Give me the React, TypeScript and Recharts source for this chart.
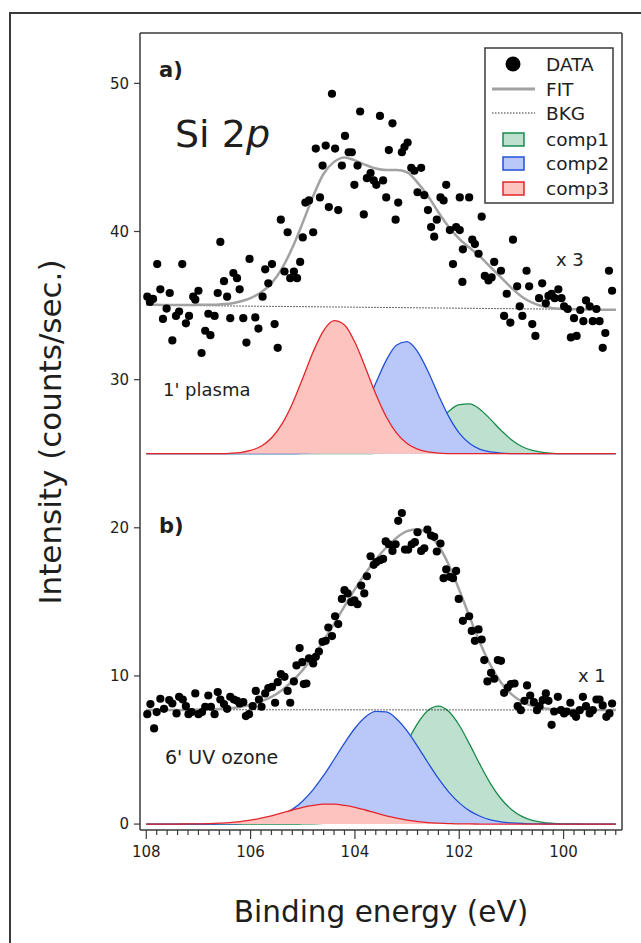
import React from 'react'
import { ComposedChart, Area, Line, Scatter, XAxis, YAxis, ReferenceLine } from 'recharts'

// energy grid (eV) the fitted curves are read on
const curveE = [
  108.0, 107.8, 107.6, 107.4, 107.2, 107.0, 106.8, 106.6, 106.4, 106.2,
  106.0, 105.8, 105.6, 105.4, 105.2, 105.0, 104.8, 104.6, 104.4, 104.2,
  104.0, 103.8, 103.6, 103.4, 103.2, 103.0, 102.8, 102.6, 102.4, 102.2,
  102.0, 101.8, 101.6, 101.4, 101.2, 101.0, 100.8, 100.6, 100.4, 100.2,
  100.0, 99.8, 99.6, 99.4, 99.2, 99.0,
]

// panel a) 1' plasma (offset, x 3)
const comp1A = [
  25, 25, 25, 25, 25, 25, 25, 25, 25, 25,
  25, 25, 25, 25, 25, 25, 25, 25, 25, 25,
  25, 25.01, 25.03, 25.07, 25.19, 25.43, 25.84, 26.44, 27.18, 27.87,
  28.32, 28.36, 27.99, 27.32, 26.58, 25.95, 25.49, 25.23, 25.09, 25.03,
  25.01, 25, 25, 25, 25, 25,
]
const comp2A = [
  25, 25, 25, 25, 25, 25, 25, 25, 25, 25,
  25, 25, 25, 25, 25.01, 25.02, 25.07, 25.19, 25.46, 25.99,
  26.9, 28.2, 29.77, 31.3, 32.34, 32.57, 31.9, 30.57, 28.97, 27.5,
  26.39, 25.69, 25.3, 25.12, 25.04, 25.01, 25, 25, 25, 25,
  25, 25, 25, 25, 25, 25,
]
const comp3A = [
  25, 25, 25, 25, 25, 25, 25, 25.01, 25.03, 25.08,
  25.22, 25.5, 26.06, 27.0, 28.38, 30.1, 31.88, 33.31, 33.98, 33.69,
  32.52, 30.82, 29.03, 27.5, 26.39, 25.69, 25.31, 25.12, 25.04, 25.01,
  25, 25, 25, 25, 25, 25, 25, 25, 25, 25,
  25, 25, 25, 25, 25, 25,
]
const fitA = [
  35.05, 35.05, 35.04, 35.04, 35.04, 35.05, 35.06, 35.08, 35.13, 35.27,
  35.5, 35.9, 36.5, 37.5, 38.9, 40.6, 42.4, 43.9, 44.7, 45.0,
  44.8, 44.5, 44.25, 44.15, 44.15, 44.0, 43.3, 42.4, 41.3, 40.3,
  39.5, 38.9, 38.3, 37.6, 36.9, 36.2, 35.6, 35.2, 34.95, 34.82,
  34.77, 34.75, 34.74, 34.73, 34.72, 34.72,
]
const bkgA: [number, number][] = [[108, 35.03], [99, 34.72]]

// panel b) 6' UV ozone (x 1)
const comp1B = [
  0, 0, 0, 0, 0, 0, 0, 0, 0, 0,
  0, 0, 0, 0, 0, 0.01, 0.02, 0.05, 0.12, 0.27,
  0.56, 1.04, 1.8, 2.84, 4.13, 5.52, 6.78, 7.66, 7.96, 7.6,
  6.67, 5.38, 4.0, 2.73, 1.71, 0.99, 0.52, 0.25, 0.11, 0.05,
  0.02, 0.01, 0, 0, 0, 0,
]
const comp2B = [
  0, 0, 0, 0, 0, 0, 0, 0.01, 0.02, 0.04,
  0.09, 0.18, 0.33, 0.59, 0.99, 1.56, 2.33, 3.28, 4.36, 5.47,
  6.47, 7.23, 7.61, 7.57, 7.1, 6.29, 5.25, 4.14, 3.08, 2.16,
  1.43, 0.89, 0.53, 0.29, 0.15, 0.08, 0.04, 0.02, 0.01, 0,
  0, 0, 0, 0, 0, 0,
]
const comp3B = [
  0, 0, 0, 0, 0.01, 0.01, 0.03, 0.06, 0.1, 0.17,
  0.26, 0.4, 0.56, 0.75, 0.95, 1.13, 1.26, 1.34, 1.34, 1.26,
  1.13, 0.95, 0.75, 0.56, 0.4, 0.26, 0.17, 0.1, 0.06, 0.03,
  0.01, 0.01, 0, 0, 0, 0, 0, 0, 0, 0,
  0, 0, 0, 0, 0, 0,
]
const fitB = [
  7.7, 7.7, 7.7, 7.7, 7.71, 7.71, 7.73, 7.77, 7.82, 7.91,
  8.05, 8.28, 8.59, 9.04, 9.64, 10.4, 11.31, 12.37, 13.52, 14.7,
  15.86, 16.92, 17.86, 18.67, 19.33, 19.77, 19.9, 19.6, 18.8, 17.49,
  15.81, 13.98, 12.23, 10.72, 9.56, 8.77, 8.26, 7.97, 7.82, 7.75,
  7.72, 7.71, 7.7, 7.7, 7.7, 7.7,
]
const bkgB: [number, number][] = [[108, 7.72], [99, 7.7]]

// measured points [binding energy, counts/sec]
const dataA: [number, number][] = [
  [107.98, 35.6], [107.93, 35.25], [107.87, 35.45], [107.79, 37.8], [107.73, 36.1], [107.68, 34.1],
  [107.61, 34.8], [107.55, 35.85], [107.5, 32.65], [107.43, 34.3], [107.37, 34.6], [107.31, 37.8],
  [107.24, 33.8], [107.18, 34.3], [107.1, 35.6], [107.06, 35.4], [107.0, 36.0], [106.94, 31.8],
  [106.87, 33.3], [106.81, 34.45], [106.77, 33.0], [106.69, 34.3], [106.63, 35.85], [106.58, 39.3],
  [106.51, 36.65], [106.45, 35.6], [106.39, 34.15], [106.33, 37.2], [106.26, 36.85], [106.21, 36.1],
  [106.14, 34.15], [106.08, 32.5], [106.02, 38.15], [105.91, 34.2], [105.85, 33.45], [105.77, 35.6],
  [105.72, 37.45], [105.66, 36.5], [105.59, 37.8], [105.54, 33.75], [105.48, 32.15], [105.42, 40.8],
  [105.35, 37.3], [105.29, 39.95], [105.24, 36.85], [105.17, 37.3], [105.11, 36.85], [105.05, 37.95],
  [105.0, 39.6], [104.95, 41.95], [104.88, 42.1], [104.8, 39.95], [104.75, 45.6], [104.67, 42.3],
  [104.62, 44.45], [104.56, 45.8], [104.5, 41.65], [104.44, 49.3], [104.38, 45.6], [104.32, 41.45],
  [104.25, 44.45], [104.19, 46.45], [104.12, 45.35], [104.06, 45.35], [104.01, 43.15], [103.95, 44.45],
  [103.9, 48.1], [103.83, 41.15], [103.77, 43.6], [103.7, 43.95], [103.64, 43.45], [103.59, 43.15],
  [103.52, 47.8], [103.46, 43.45], [103.4, 42.3], [103.35, 45.5], [103.28, 47.3], [103.22, 40.8],
  [103.17, 41.95], [103.1, 45.35], [103.05, 45.7], [102.99, 46.0], [102.92, 44.3], [102.86, 44.1],
  [102.8, 42.65], [102.73, 44.3], [102.67, 42.45], [102.6, 41.45], [102.54, 40.3], [102.48, 39.65],
  [102.43, 40.8], [102.36, 42.3], [102.3, 42.1], [102.25, 43.15], [102.18, 40.1], [102.12, 37.8],
  [102.06, 40.3], [101.99, 42.3], [101.93, 38.8], [101.94, 36.6], [101.99, 40.1], [101.81, 42.3],
  [101.75, 39.45], [101.7, 39.15], [101.63, 38.5], [101.57, 41.0], [101.51, 37.0], [101.44, 36.7],
  [101.38, 36.9], [101.33, 37.95], [101.2, 37.35], [101.14, 34.3], [101.09, 35.8], [101.02, 33.85],
  [100.97, 39.45], [100.89, 36.3], [100.84, 34.95], [100.79, 34.3], [100.71, 37.35], [100.66, 36.3],
  [100.6, 33.75], [100.54, 32.95], [100.47, 35.5], [100.41, 36.5], [100.34, 35.15], [100.29, 35.65],
  [100.23, 35.8], [100.17, 35.5], [100.1, 36.1], [100.04, 35.5], [99.99, 34.95], [99.92, 34.77],
  [99.86, 32.85], [99.8, 34.15], [99.75, 32.95], [99.68, 34.7], [99.62, 33.95], [99.57, 35.35],
  [99.5, 34.95], [99.44, 33.95], [99.37, 34.77], [99.31, 33.95], [99.25, 32.15], [99.2, 33.15],
  [99.13, 37.35], [99.07, 36.0],
]
const dataB: [number, number][] = [
  [107.98, 7.42], [107.92, 8.1], [107.85, 6.46], [107.8, 7.56], [107.73, 8.46], [107.66, 7.78],
  [107.56, 8.37], [107.5, 8.14], [107.42, 7.47], [107.37, 8.59], [107.3, 8.41], [107.24, 7.96],
  [107.19, 7.42], [107.13, 7.56], [107.06, 8.82], [107.0, 7.42], [106.93, 7.56], [106.87, 7.92],
  [106.81, 8.68], [106.76, 7.92], [106.69, 7.42], [106.63, 8.91], [106.58, 8.41], [106.51, 8.1],
  [106.45, 7.78], [106.39, 8.59], [106.32, 8.41], [106.26, 8.32], [106.21, 8.14], [106.14, 8.23],
  [106.09, 7.29], [106.03, 7.42], [105.96, 7.96], [105.9, 8.99], [105.84, 8.41], [105.79, 7.92],
  [105.72, 8.82], [105.66, 9.18], [105.59, 9.26], [105.53, 8.19], [105.48, 9.58], [105.42, 10.12],
  [105.35, 9.94], [105.29, 8.99], [105.24, 8.19], [105.17, 9.63], [105.12, 10.71], [105.06, 11.88],
  [105.01, 10.93], [104.98, 9.45], [104.93, 9.49], [104.88, 11.18], [104.8, 10.84], [104.75, 11.29],
  [104.69, 11.65], [104.62, 12.3], [104.56, 12.37], [104.51, 13.27], [104.44, 12.69], [104.38, 14.03],
  [104.32, 13.5], [104.25, 15.2], [104.2, 15.79], [104.14, 15.57], [104.07, 14.98], [104.01, 15.11],
  [103.95, 14.84], [103.88, 16.1], [103.82, 15.57], [103.77, 16.73], [103.7, 18.08], [103.64, 17.5],
  [103.59, 17.68], [103.52, 17.81], [103.46, 17.9], [103.41, 19.08], [103.35, 18.89], [103.28, 18.44],
  [103.22, 18.89], [103.17, 20.47], [103.1, 21.0], [103.04, 18.53], [102.98, 18.53], [102.91, 18.89],
  [102.85, 19.03], [102.8, 19.7], [102.73, 18.44], [102.67, 18.62], [102.61, 19.88], [102.54, 19.48],
  [102.48, 19.39], [102.43, 18.4], [102.36, 18.94], [102.3, 16.6], [102.25, 17.19], [102.18, 16.69],
  [102.12, 16.6], [102.06, 17.09], [102.01, 15.2], [101.93, 13.72], [101.81, 14.03], [101.76, 13.04],
  [101.7, 12.37], [101.63, 13.14], [101.57, 12.46], [101.52, 11.07], [101.46, 9.63], [101.39, 10.21],
  [101.33, 9.81], [101.26, 11.07], [101.2, 11.02], [101.14, 8.86], [101.07, 9.22], [101.01, 9.45],
  [100.94, 9.49], [100.88, 7.96], [100.82, 7.69], [100.75, 8.32], [100.7, 9.36], [100.64, 8.68],
  [100.57, 8.23], [100.51, 7.69], [100.46, 7.96], [100.4, 8.37], [100.34, 8.82], [100.29, 8.32],
  [100.23, 6.7], [100.18, 7.6], [100.11, 8.59], [100.05, 7.69], [99.99, 7.47], [99.94, 7.6],
  [99.87, 8.19], [99.81, 7.47], [99.76, 7.24], [99.69, 7.69], [99.63, 8.59], [99.57, 7.96],
  [99.5, 7.47], [99.44, 7.69], [99.37, 8.41], [99.31, 8.41], [99.25, 8.01], [99.18, 7.24],
  [99.12, 7.47], [99.07, 8.14],
]

const xTicks = [
  108.0, 107.8, 107.6, 107.4, 107.2, 107.0, 106.8, 106.6, 106.4, 106.2,
  106.0, 105.8, 105.6, 105.4, 105.2, 105.0, 104.8, 104.6, 104.4, 104.2,
  104.0, 103.8, 103.6, 103.4, 103.2, 103.0, 102.8, 102.6, 102.4, 102.2,
  102.0, 101.8, 101.6, 101.4, 101.2, 101.0, 100.8, 100.6, 100.4, 100.2,
  100.0, 99.8, 99.6, 99.4, 99.2, 99.0,
]
const xTickLabels = [108, 106, 104, 102, 100]
const yTicks = [0, 10, 20, 30, 40, 50]
const xDomain: [number, number] = [98.88, 108.12]
const yDomain: [number, number] = [-0.4, 53.4]

const FONT = '"DejaVu Sans", Verdana, sans-serif'
const INK = '#1e1e1e'
const FRAME = '#3a3a3a'

const COLORS = {
  comp1: { fill: '#bde0cf', stroke: '#1a8a4c' },
  comp2: { fill: '#bac8f9', stroke: '#2250d8' },
  comp3: { fill: '#fdc4bf', stroke: '#e3242b' },
  fit: '#a2a2a2',
}

const curve = (vals: number[]) => curveE.map((e, i) => ({ e, v: vals[i] }))
const points = (pairs: [number, number][]) => pairs.map(([e, v]) => ({ e, v }))

const XTick = (props: any) => {
  const { x, y, payload } = props
  const val = payload.value as number
  const labelled = xTickLabels.some((t) => Math.abs(t - val) < 0.01)
  return (
    <g>
      <line x1={x} x2={x} y1={y} y2={y + (labelled ? 9 : 5)} stroke={FRAME} strokeWidth={1.2} />
      {labelled && (
        <text x={x} y={y + 27} textAnchor="middle" fontSize={15} fill={INK} fontFamily={FONT}>
          {Math.round(val)}
        </text>
      )}
    </g>
  )
}

const Dot = (props: any) => <circle cx={props.cx} cy={props.cy} r={4.1} fill="#000" />

const Legend = () => {
  const rows = [
    { key: 'comp1', y: 133 },
    { key: 'comp2', y: 157 },
    { key: 'comp3', y: 182 },
  ] as const
  return (
    <g fontFamily={FONT} fontSize={18.5} fill={INK}>
      <rect x={485} y={48} width={128} height={155} fill="#fff" stroke={FRAME} strokeWidth={1.5} />
      <circle cx={513} cy={64} r={7.5} fill="#000" />
      <text x={546} y={71}>DATA</text>
      <line x1={492} x2={535} y1={89} y2={89} stroke={COLORS.fit} strokeWidth={3} />
      <text x={546} y={96}>FIT</text>
      <line x1={492} x2={535} y1={113} y2={113} stroke="#333" strokeWidth={1} strokeDasharray="1.5 1.5" />
      <text x={546} y={120}>BKG</text>
      {rows.map((r) => (
        <g key={r.key}>
          <rect x={503} y={r.y} width={21} height={13} fill={COLORS[r.key].fill} stroke={COLORS[r.key].stroke} strokeWidth={1.5} />
          <text x={546} y={r.y + 13}>{r.key}</text>
        </g>
      ))}
    </g>
  )
}

const compArea = (id: string, vals: number[], base: number, c: { fill: string; stroke: string }) => (
  <Area
    key={id}
    data={curve(vals)}
    dataKey="v"
    type="monotone"
    baseValue={base}
    fill={c.fill}
    fillOpacity={1}
    stroke={c.stroke}
    strokeWidth={1.3}
    isAnimationActive={false}
  />
)

export default function App() {
  return (
    <div style={{ position: 'absolute', left: 0, top: 0, width: 641, height: 943, background: '#fff', overflow: 'hidden', fontFamily: FONT }}>
      <div style={{ position: 'absolute', left: 9, top: 12, width: 800, height: 1100, border: `2px solid ${FRAME}` }} />
      <div style={{ position: 'absolute', left: 0, top: 0 }}>
        <ComposedChart width={641} height={943} margin={{ top: 33, right: 19, bottom: 73, left: 90 }}>
          <XAxis
            dataKey="e"
            type="number"
            domain={xDomain}
            reversed
            allowDataOverflow
            ticks={xTicks}
            interval={0}
            tick={<XTick />}
            tickLine={false}
            tickSize={0}
            tickMargin={0}
            height={40}
            axisLine={{ stroke: FRAME, strokeWidth: 1.5 }}
          />
          <YAxis
            dataKey="v"
            type="number"
            domain={yDomain}
            allowDataOverflow
            ticks={yTicks}
            interval={0}
            width={50}
            tickSize={6}
            tickMargin={5}
            tick={{ fontSize: 15, fill: INK, fontFamily: FONT }}
            tickLine={{ stroke: FRAME, strokeWidth: 1.2 }}
            axisLine={{ stroke: FRAME, strokeWidth: 1.5 }}
          />

          {compArea('c1a', comp1A, 25, COLORS.comp1)}
          {compArea('c2a', comp2A, 25, COLORS.comp2)}
          {compArea('c3a', comp3A, 25, COLORS.comp3)}
          {compArea('c1b', comp1B, 0, COLORS.comp1)}
          {compArea('c2b', comp2B, 0, COLORS.comp2)}
          {compArea('c3b', comp3B, 0, COLORS.comp3)}

          <Line data={points(bkgA)} dataKey="v" type="linear" stroke="#333" strokeWidth={1} strokeDasharray="1.5 1.5" dot={false} isAnimationActive={false} />
          <Line data={points(bkgB)} dataKey="v" type="linear" stroke="#333" strokeWidth={1} strokeDasharray="1.5 1.5" dot={false} isAnimationActive={false} />

          <Scatter data={points(dataA)} dataKey="v" shape={<Dot />} isAnimationActive={false} />
          <Scatter data={points(dataB)} dataKey="v" shape={<Dot />} isAnimationActive={false} />

          <Line data={curve(fitA)} dataKey="v" type="monotone" stroke={COLORS.fit} strokeWidth={2.5} dot={false} isAnimationActive={false} />
          <Line data={curve(fitB)} dataKey="v" type="monotone" stroke={COLORS.fit} strokeWidth={2.5} dot={false} isAnimationActive={false} />

          {/* top and right sides of the plot frame */}
          <ReferenceLine y={yDomain[1]} stroke={FRAME} strokeWidth={1.5} />
          <ReferenceLine x={xDomain[0]} stroke={FRAME} strokeWidth={1.5} />
        </ComposedChart>
      </div>
      <svg width={641} height={943} style={{ position: 'absolute', left: 0, top: 0, pointerEvents: 'none' }}>
        <g fontFamily={FONT} fill={INK}>
          <text x={159} y={77} fontSize={21} fontWeight="bold">a)</text>
          <text x={175} y={147} fontSize={38}>
            Si 2<tspan fontStyle="italic">p</tspan>
          </text>
          <text x={163} y={396} fontSize={18}>1' plasma</text>
          <text x={556} y={266} fontSize={18}>x 3</text>
          <text x={159} y={533} fontSize={21} fontWeight="bold">b)</text>
          <text x={165} y={764} fontSize={19}>6' UV ozone</text>
          <text x={578} y={682} fontSize={18}>x 1</text>
          <text transform="translate(61,432) rotate(-90)" textAnchor="middle" fontSize={31}>
            Intensity (counts/sec.)
          </text>
          <text x={381} y={922} textAnchor="middle" fontSize={29.5}>Binding energy (eV)</text>
        </g>
        <Legend />
      </svg>
    </div>
  )
}
